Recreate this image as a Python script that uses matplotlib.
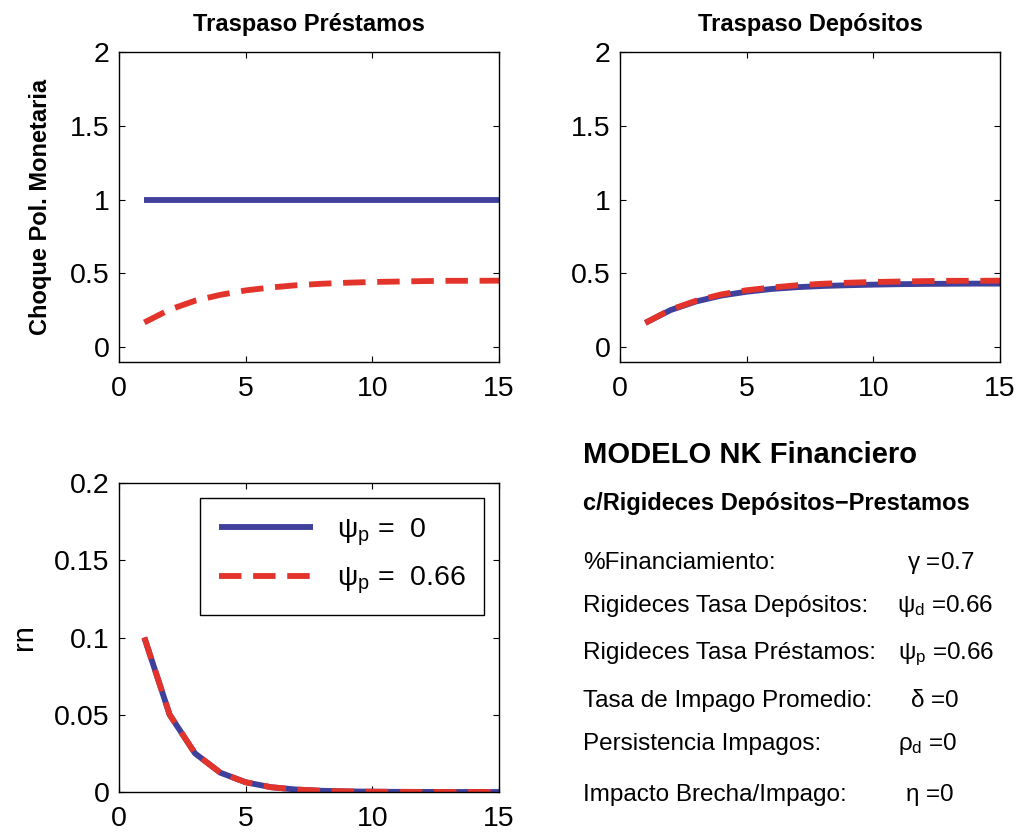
import matplotlib
matplotlib.use("Agg")
import matplotlib.pyplot as plt
from matplotlib.ticker import FuncFormatter

plt.rcParams['font.family'] = ['Liberation Sans', 'DejaVu Sans']
plt.rcParams['mathtext.fontset'] = 'custom'
plt.rcParams['mathtext.rm'] = 'Liberation Sans'
plt.rcParams['mathtext.it'] = 'Liberation Sans'
plt.rcParams['mathtext.bf'] = 'Liberation Sans:bold'

# horizon (quarters)
periods = list(range(1, 16))

# lending rate pass-through
prest_psi0 = [1.0] * 15
prest_psi066 = [0.168, 0.255, 0.315, 0.355, 0.385, 0.405, 0.420, 0.430,
                0.437, 0.442, 0.445, 0.448, 0.450, 0.450, 0.451]

# deposit rate pass-through
dep_psi0 = [0.165, 0.252, 0.310, 0.350, 0.376, 0.395, 0.407, 0.415,
            0.420, 0.424, 0.427, 0.429, 0.430, 0.431, 0.431]
dep_psi066 = [0.165, 0.255, 0.315, 0.358, 0.386, 0.405, 0.420, 0.430,
              0.437, 0.442, 0.445, 0.448, 0.450, 0.450, 0.451]

# monetary shock rn
rn_psi0 = [0.1, 0.05, 0.025, 0.0125, 0.0063, 0.0031, 0.0016, 0.0008,
           0.0004, 0.0002, 0.0001, 0.00005, 0.00002, 0.00001, 0.0]
rn_psi066 = list(rn_psi0)

legend_labels = [r'$\psi_{\rm p}$ =  0', r'$\psi_{\rm p}$ =  0.66']

param_names = ['%Financiamiento:', 'Rigideces Tasa Depósitos:',
               'Rigideces Tasa Préstamos:', 'Tasa de Impago Promedio:',
               'Persistencia Impagos:', 'Impacto Brecha/Impago:']
param_values = [r'$\gamma$ =0.7', r'$\psi_{\rm d}$ =0.66', r'$\psi_{\rm p}$ =0.66',
                r'$\delta$ =0', r'$\rho_{\rm d}$ =0', r'$\eta$ =0']

BLUE = '#3F3F9C'
RED = '#E3342B'
W, H = 1023, 836

fig = plt.figure(figsize=(W / 100, H / 100), dpi=100)


def px_axes(left, top, right, bottom):
    return fig.add_axes([left / W, 1 - bottom / H, (right - left) / W, (bottom - top) / H])


def style(ax, ylim, yticks):
    ax.set_xlim(0, 15)
    ax.set_xticks([0, 5, 10, 15])
    ax.set_ylim(*ylim)
    ax.set_yticks(yticks)
    ax.yaxis.set_major_formatter(FuncFormatter(lambda v, p: f'{v:g}'))
    ax.tick_params(direction='in', length=4, width=0.8, top=True, right=True,
                   labelsize=20.5)
    ax.tick_params(axis='x', pad=10)
    ax.tick_params(axis='y', pad=7)
    for s in ax.spines.values():
        s.set_linewidth(1.0)


def draw_pair(ax, y_solid, y_dash):
    ax.plot(periods, y_solid, color=BLUE, lw=4.2, solid_capstyle='butt')
    ax.plot(periods, y_dash, color=RED, lw=4.2, dashes=(3.85, 2.0),
            dash_capstyle='butt')


ax1 = px_axes(119, 52, 499, 362)
draw_pair(ax1, prest_psi0, prest_psi066)
style(ax1, (-0.1, 2), [0, 0.5, 1, 1.5, 2])
ax1.set_title('Traspaso Préstamos', fontsize=17, fontweight='bold', pad=15)
ax1.set_ylabel('Choque Pol. Monetaria', fontsize=17, fontweight='bold')
ax1.yaxis.set_label_coords(-0.176, 0.5)

ax2 = px_axes(620, 52, 1000, 362)
draw_pair(ax2, dep_psi0, dep_psi066)
style(ax2, (-0.1, 2), [0, 0.5, 1, 1.5, 2])
ax2.set_title('Traspaso Depósitos', fontsize=17, fontweight='bold', pad=15)

ax3 = px_axes(119, 483, 499, 792)
draw_pair(ax3, rn_psi0, rn_psi066)
style(ax3, (0, 0.2), [0, 0.05, 0.1, 0.15, 0.2])
ax3.set_ylabel('rn', fontsize=21)
ax3.yaxis.set_label_coords(-0.213, 0.5)
leg = ax3.legend(ax3.get_lines(), legend_labels, loc='upper right',
                 bbox_to_anchor=(0.961, 0.951), borderaxespad=0,
                 fontsize=20.5, fancybox=False, framealpha=1,
                 edgecolor='black', handlelength=3.3, handletextpad=0.85,
                 borderpad=0.65, labelspacing=0.6)
leg.get_frame().set_linewidth(1.0)

# model description panel
fig.text(583 / W, 1 - 463 / H, 'MODELO NK Financiero', fontsize=21,
         fontweight='bold', ha='left', va='baseline')
fig.text(583 / W, 1 - 510 / H, 'c/Rigideces Depósitos\u2212Prestamos',
         fontsize=17, fontweight='bold', ha='left', va='baseline')

row_y = [569, 612, 659, 707, 750, 801]
val_x = [907, 897, 898, 910, 898, 905]
for name, val, y, vx in zip(param_names, param_values, row_y, val_x):
    fig.text(583 / W, 1 - y / H, name, fontsize=17.5, ha='left', va='baseline')
    fig.text(vx / W, 1 - y / H, val, fontsize=17.5, ha='left', va='baseline')

fig.savefig('out.png', dpi=100)
